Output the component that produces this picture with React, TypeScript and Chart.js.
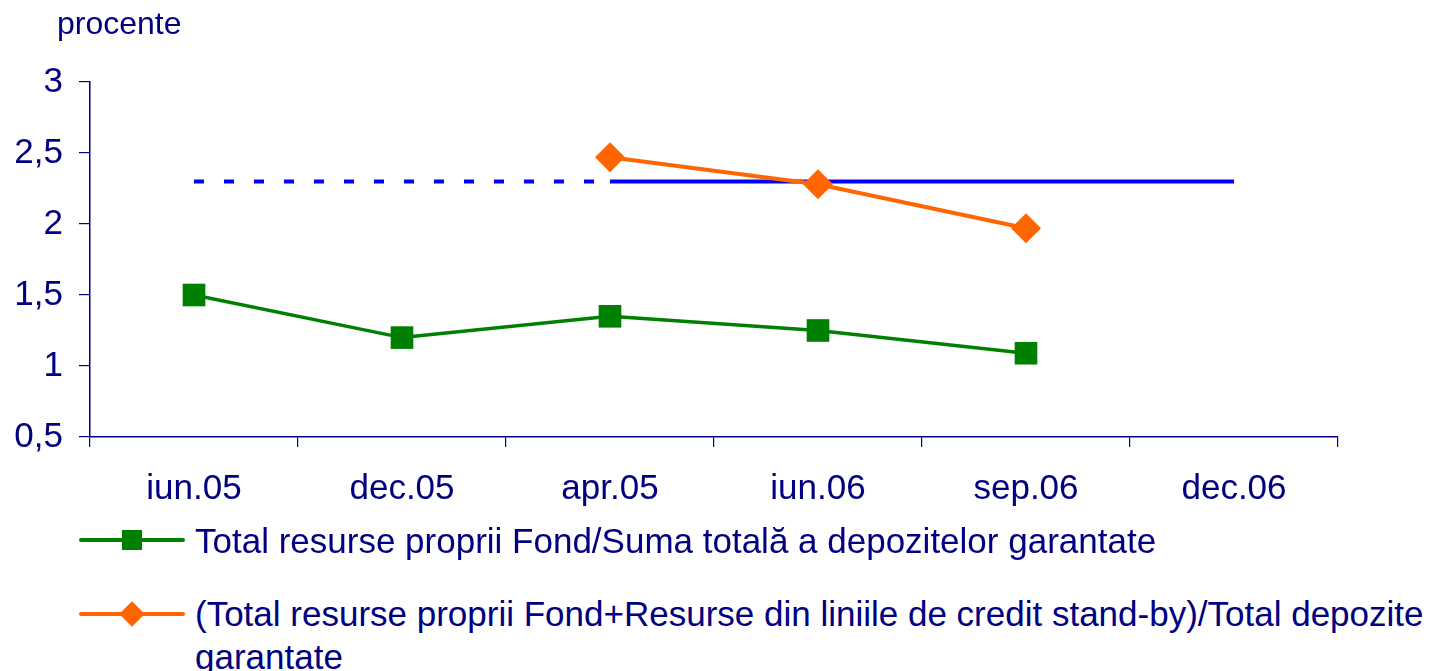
import React, { useEffect, useRef } from "react";
import { Chart, registerables } from "chart.js";

Chart.register(...registerables);

const categories = ["iun.05", "dec.05", "apr.05", "iun.06", "sep.06", "dec.06"];
const ownResources = [1.5, 1.2, 1.35, 1.25, 1.09, null];
const withStandBy = [null, null, 2.47, 2.28, 1.97, null];
const thresholdDashed = [2.3, 2.3, 2.3, null, null, null];
const thresholdSolid = [null, null, 2.3, 2.3, 2.3, 2.3];
const yTicks = { min: 0.5, max: 3, step: 0.5 };
const legendLabels = [
  "Total resurse proprii Fond/Suma totală a depozitelor garantate",
  "(Total resurse proprii Fond+Resurse din liniile de credit stand-by)/Total depozite",
  "garantate",
];
const yTitle = "procente";

const NAVY = "#000080";
const GREEN = "#008000";
const ORANGE = "#FF6600";
const BLUE = "#0000FF";
const FONT = "'Liberation Sans', Arial, sans-serif";

export default function App() {
  const ref = useRef<HTMLCanvasElement | null>(null);

  useEffect(() => {
    if (!ref.current) return;
    const chart = new Chart(ref.current, {
      type: "line",
      data: {
        labels: categories,
        datasets: [
          {
            label: legendLabels[0],
            data: ownResources,
            borderColor: GREEN,
            backgroundColor: GREEN,
            borderWidth: 3.5,
            pointStyle: "rect",
            pointRadius: 16,
            pointBorderWidth: 0,
            tension: 0,
          },
          {
            label: legendLabels[1],
            data: withStandBy,
            borderColor: ORANGE,
            backgroundColor: ORANGE,
            borderWidth: 4,
            pointStyle: "rectRot",
            pointRadius: 15,
            pointBorderWidth: 0,
            tension: 0,
          },
          {
            label: "dashed",
            data: thresholdDashed,
            borderColor: BLUE,
            borderWidth: 4,
            borderDash: [10, 20],
            pointRadius: 0,
            tension: 0,
          },
          {
            label: "solid",
            data: thresholdSolid,
            borderColor: BLUE,
            borderWidth: 4,
            pointRadius: 0,
            tension: 0,
          },
        ],
      },
      options: {
        animation: false,
        responsive: false,
        maintainAspectRatio: false,
        layout: { padding: { top: 82, right: 103, left: 0, bottom: 0 } },
        plugins: {
          legend: { display: false },
          tooltip: { enabled: false },
        },
        scales: {
          x: {
            offset: true,
            grid: {
              offset: true,
              drawOnChartArea: false,
              tickLength: 10,
              color: NAVY,
              lineWidth: 1.2,
            },
            border: { color: NAVY, width: 1.5 },
            ticks: {
              color: NAVY,
              font: { family: FONT, size: 35 },
              padding: 21,
              maxRotation: 0,
            },
            afterFit: (s: any) => {
              s.height = 83;
            },
          },
          y: {
            min: yTicks.min,
            max: yTicks.max,
            grid: {
              drawOnChartArea: false,
              tickLength: 11,
              color: NAVY,
              lineWidth: 1.2,
            },
            border: { color: NAVY, width: 1.5 },
            ticks: {
              stepSize: yTicks.step,
              color: NAVY,
              font: { family: FONT, size: 35 },
              padding: 16,
              callback: (v: any) => String(v).replace(".", ","),
            },
            afterFit: (s: any) => {
              s.width = 90;
            },
          },
        },
      },
    });
    return () => chart.destroy();
  }, []);

  const textStyle: React.CSSProperties = {
    fontFamily: FONT,
    fontSize: 35,
    color: NAVY,
    whiteSpace: "nowrap",
    lineHeight: "43px",
  };

  const marker = (color: string, diamond: boolean, cy: number) => (
    <div style={{ position: "absolute", left: 79, top: cy - 13, width: 106, height: 26 }}>
      <div
        style={{
          position: "absolute",
          left: 0,
          top: 11,
          width: 106,
          height: 4,
          borderRadius: 2,
          background: color,
        }}
      />
      <div
        style={{
          position: "absolute",
          left: diamond ? 44 : 43,
          top: diamond ? 4 : 3,
          width: diamond ? 18 : 20,
          height: diamond ? 18 : 20,
          background: color,
          transform: diamond ? "rotate(45deg)" : undefined,
        }}
      />
    </div>
  );

  return (
    <div
      style={{
        position: "absolute",
        left: 0,
        top: 0,
        width: 1441,
        height: 671,
        overflow: "hidden",
        background: "#fff",
      }}
    >
      <canvas ref={ref} width={1441} height={520} style={{ position: "absolute", left: 0, top: 0 }} />
      <div style={{ position: "absolute", left: 57, top: 2, ...textStyle, fontSize: 32 }}>{yTitle}</div>
      {marker(GREEN, false, 540)}
      <div style={{ position: "absolute", left: 195, top: 519, ...textStyle }}>{legendLabels[0]}</div>
      {marker(ORANGE, true, 614)}
      <div style={{ position: "absolute", left: 195, top: 592, ...textStyle }}>
        {legendLabels[1]}
        <br />
        {legendLabels[2]}
      </div>
    </div>
  );
}
